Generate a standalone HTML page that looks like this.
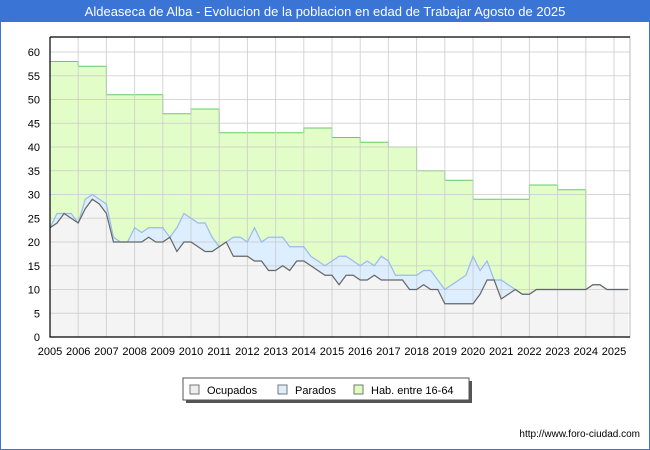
<!DOCTYPE html>
<html><head><meta charset="utf-8"><style>
body{margin:0;background:#fff;font-family:"Liberation Sans","DejaVu Sans",sans-serif}
#wrap{position:relative;width:650px;height:450px;overflow:hidden;border:1px solid #3a74d4;box-sizing:border-box}
</style></head><body>
<div id="wrap">
<svg id="svg" width="650" height="450" style="position:absolute;left:-1px;top:-1px">
<rect x="0" y="0" width="650" height="22" fill="#3a74d4"/>
<text x="325" y="16" text-anchor="middle" fill="#fff" font-size="13">Aldeaseca de Alba - Evolucion de la poblacion en edad de Trabajar Agosto de 2025</text>
<g id="plot"></g>
<g>
<rect x="186" y="381" width="286" height="22" fill="#555"/>
<rect x="183" y="378" width="286" height="22" fill="#fff" stroke="#555"/>
<rect x="190" y="385" width="9" height="9" fill="#eee" stroke="#777"/>
<text x="207" y="394" font-size="11" fill="#000">Ocupados</text>
<rect x="278" y="385" width="9" height="9" fill="#ddeeff" stroke="#777"/>
<text x="295" y="394" font-size="11" fill="#000">Parados</text>
<rect x="354" y="385" width="9" height="9" fill="#ddffbb" stroke="#777"/>
<text x="371" y="394" font-size="11" fill="#000">Hab. entre 16-64</text>
</g>
<text x="640" y="437" text-anchor="end" font-size="10" fill="#000">http://www.foro-ciudad.com</text>
</svg>
</div>
<script>
const habYears=[2005,2006,2007,2008,2009,2010,2011,2012,2013,2014,2015,2016,2017,2018,2019,2020,2021,2022,2023];
const habValues=[58,57,51,51,47,48,43,43,43,44,42,41,40,35,33,29,29,32,31];
const quarterStart=2005, quarterStep=0.25;
const ocupados=[23,24,26,25, 24,27,29,28, 26,20,20,20, 20,20,21,20, 20,21,18,20, 20,19,18,18, 19,20,17,17, 17,16,16,14, 14,15,14,16, 16,15,14,13, 13,11,13,13, 12,12,13,12, 12,12,12,10, 10,11,10,10, 7,7,7,7, 7,9,12,12, 8,9,10,9, 9,10,10,10, 10,10,10,10, 10,11,11,10, 10,10,10];
const parados=[0,2,0,1, 0,2,1,1, 2,1,0,0, 3,2,2,3, 3,0,5,6, 5,5,6,3, 0,0,4,4, 3,7,4,7, 7,6,5,3, 3,2,2,2, 3,6,4,3, 3,4,2,5, 4,1,1,3, 3,3,4,2, 3,4,5,6, 10,5,4,0, 4,2,0,0, 0,0,0,0, 0,0,0,0, 0,0,0,0, 0,0,0];
const yTicks=[0,5,10,15,20,25,30,35,40,45,50,55,60];
const xTicks=[2005,2006,2007,2008,2009,2010,2011,2012,2013,2014,2015,2016,2017,2018,2019,2020,2021,2022,2023,2024,2025];

const X0=50,X1=630,Y0=337,YT=37;
const xs=y=>X0+(y-2005)*28.2;
const ys=v=>Y0-v*4.75;
const NS='http://www.w3.org/2000/svg';
const g=document.getElementById('plot');
function mk(t,a){const e=document.createElementNS(NS,t);for(const k in a)e.setAttribute(k,a[k]);g.appendChild(e);return e;}
let e=mk('rect',{x:X0,y:YT,width:X1-X0,height:Y0-YT,fill:'#fff'});


// hab area
let d='M'+xs(habYears[0])+','+Y0;
habYears.forEach((yr,i)=>{d+=' L'+xs(yr)+','+ys(habValues[i])+' L'+xs(yr+1)+','+ys(habValues[i]);});
d+=' L'+xs(habYears[habYears.length-1]+1)+','+Y0+' Z';
e=mk('path',{d:d,fill:'#e2fdc8',stroke:'#6c6',"stroke-width":1});


// total (blue) and ocupados
const tx=ocupados.map((v,i)=>xs(quarterStart+i*quarterStep));
const tot=ocupados.map((v,i)=>v+parados[i]);
function area(vals){let s='M'+tx[0]+','+Y0;vals.forEach((v,i)=>s+=' L'+tx[i]+','+ys(v));return s+' L'+tx[tx.length-1]+','+Y0+' Z';}
function line(vals){return vals.map((v,i)=>(i?'L':'M')+tx[i]+','+ys(v)).join(' ');}
e=mk('path',{d:area(tot),fill:'#ddeeff'});


e=mk('path',{d:area(ocupados),fill:'#f4f4f4'});


// grid
yTicks.forEach(v=>{
 e=mk('line',{x1:X0,x2:X1,y1:ys(v),y2:ys(v),stroke:'#ccc',"stroke-width":1,"stroke-opacity":0.8});
 
 
 e=mk('text',{x:40,y:ys(v)+4,"text-anchor":"end","font-size":11,fill:'#000'});
 e.textContent=v;
 
 
});
xTicks.forEach(v=>{
 e=mk('line',{x1:xs(v),x2:xs(v),y1:YT,y2:Y0,stroke:'#ccc',"stroke-width":1,"stroke-opacity":0.8});
 
 
 e=mk('text',{x:xs(v),y:355,"text-anchor":"middle","font-size":11,fill:'#000'});
 e.textContent=v;
 
 
});
e=mk('path',{d:line(tot),fill:'none',stroke:'#99bbee',"stroke-width":1.2});


e=mk('path',{d:line(ocupados),fill:'none',stroke:'#666',"stroke-width":1.2});


e=mk('rect',{x:X0,y:YT,width:X1-X0,height:Y0-YT,fill:'none',stroke:'#bbb'});


e=mk('path',{d:`M${X0},${YT} L${X0},${Y0} L${X1},${Y0} M${X0},${YT} L${X1},${YT}`,fill:'none',stroke:'#000',"stroke-width":1.2});


</script>
</body></html>
